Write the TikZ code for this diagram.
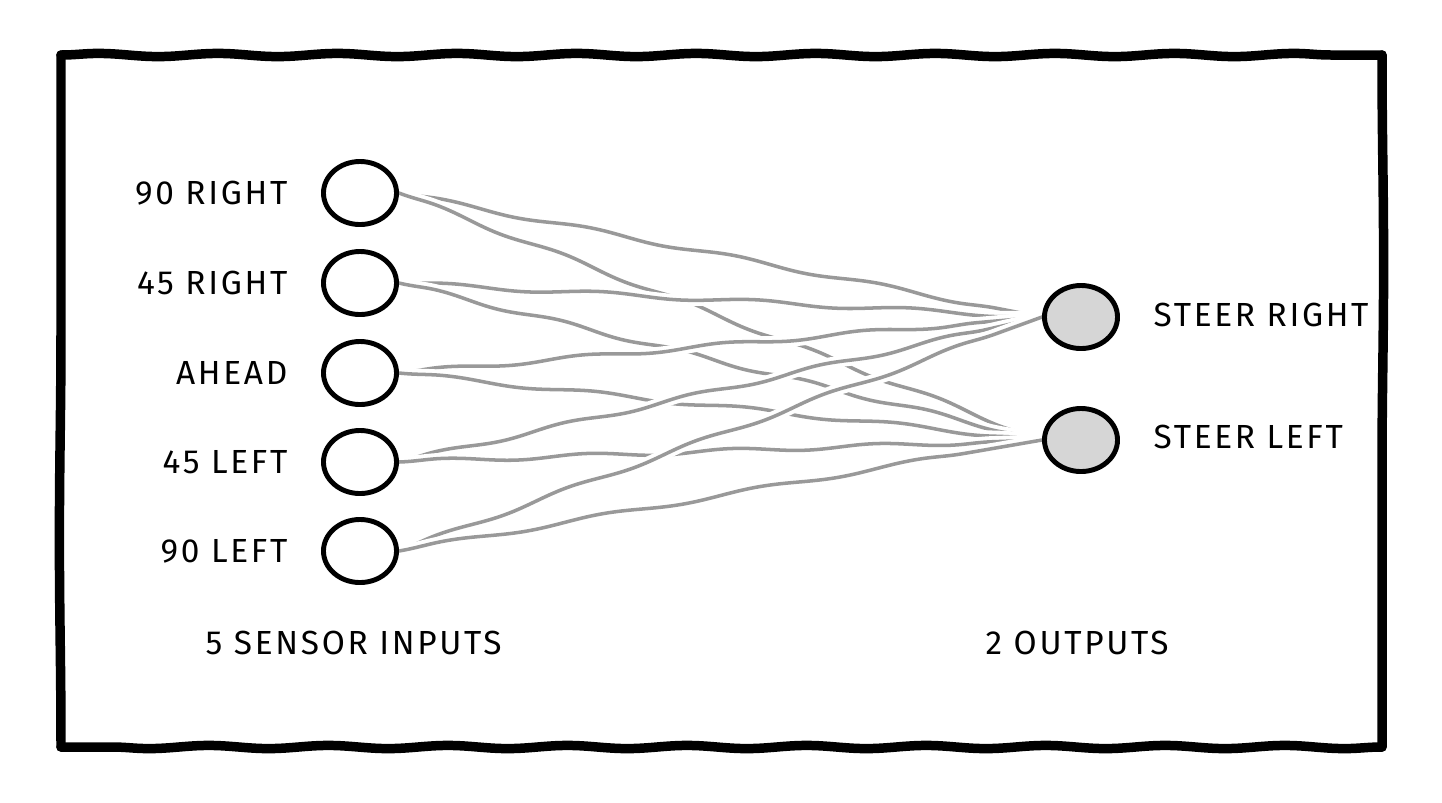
\documentclass[tikz,border=0pt]{standalone}
\usepackage{fontspec}
\setmainfont{Fira Sans}[LetterSpace=8]
\usetikzlibrary{shapes.geometric,decorations.pathmorphing,backgrounds}
\begin{document}
\begin{tikzpicture}[x=0.01cm,y=-0.01cm,
  inp/.style={ellipse, draw=black, line width=1.4pt, minimum width=0.73cm, minimum height=0.63cm, inner sep=0pt, fill=white},
  outp/.style={inp, fill=black!16},
  lbl/.style={font=\fontsize{9.5}{11}\selectfont, inner sep=0pt},
  conn/.style={draw=black!40, line width=1pt, line cap=round, decorate,
    decoration={snake, amplitude=0.6pt, segment length=#1},
    preaction={draw=white, line width=3.2pt, line cap=butt}},
  conn/.default=40pt,
  frame/.style={draw=black, line width=2.7pt, line cap=round, decorate,
    decoration={snake, amplitude=0.45pt, segment length=#1}},
  frame/.default=34pt]
\useasboundingbox (0,0) rectangle (1442,802);

% frame corners
\coordinate (fa) at (61,55);
\coordinate (fb) at (1382,55);
\coordinate (fc) at (1382,747);
\coordinate (fd) at (61,747);
\draw[frame] (fa) -- (fb);
\draw[frame=190pt] (fb) -- (fc);
\draw[frame] (fc) -- (fd);
\draw[frame=190pt] (fd) -- (fa);

% input nodes
\node[inp] (i1) at (360,193) {};
\node[inp] (i2) at (360,283) {};
\node[inp] (i3) at (360,373) {};
\node[inp] (i4) at (360,462) {};
\node[inp] (i5) at (360,551) {};
% output nodes
\node[outp] (o1) at (1081,317) {};
\node[outp] (o2) at (1081,440) {};

% labels
\node[lbl, anchor=east] (t1) at (288,193) {90 RIGHT};
\node[lbl, anchor=east] (t2) at (288,283) {45 RIGHT};
\node[lbl, anchor=east] (t3) at (288,373) {AHEAD};
\node[lbl, anchor=east] (t4) at (288,462) {45 LEFT};
\node[lbl, anchor=east] (t5) at (288,551) {90 LEFT};
\node[lbl, anchor=west] (s1) at (1153,315) {STEER RIGHT};
\node[lbl, anchor=west] (s2) at (1153,437) {STEER LEFT};
\node[lbl, anchor=west] (c1) at (205,643) {5 SENSOR INPUTS};
\node[lbl, anchor=west] (c2) at (985,643) {2 OUTPUTS};

% connectors
\begin{scope}[on background layer]
\draw[conn=42pt] (i1.east) -- (o1.west);
\draw[conn=38pt] (i1.east) -- (o2.west);
\draw[conn=44pt] (i2.east) -- (o1.west);
\draw[conn=36pt] (i2.east) -- (o2.west);
\draw[conn=40pt] (i3.east) -- (o1.west);
\draw[conn=43pt] (i3.east) -- (o2.west);
\draw[conn=37pt] (i4.east) -- (o1.west);
\draw[conn=41pt] (i4.east) -- (o2.west);
\draw[conn=39pt] (i5.east) -- (o1.west);
\draw[conn=45pt] (i5.east) -- (o2.west);
\end{scope}
\end{tikzpicture}
\end{document}
